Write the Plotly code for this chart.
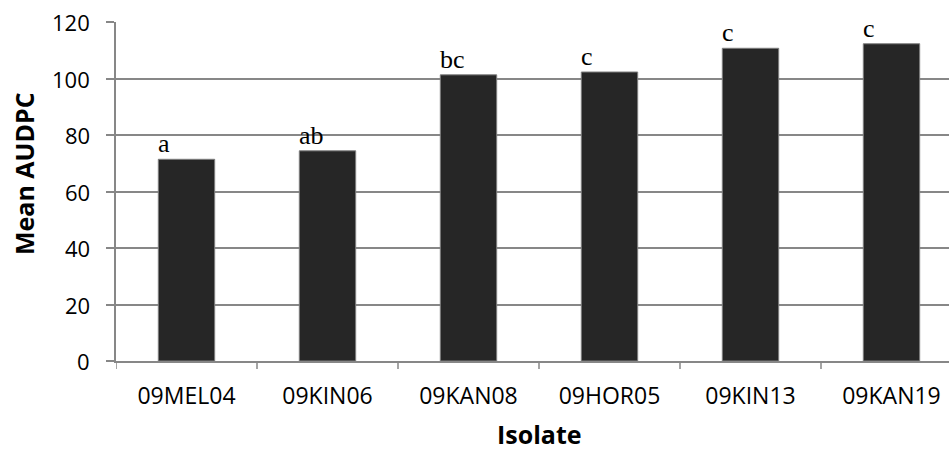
import plotly.graph_objects as go

# Mean AUDPC per isolate with significance-group letters
isolates = ["09MEL04", "09KIN06", "09KAN08", "09HOR05", "09KIN13", "09KAN19"]
mean_audpc = [71.4, 74.4, 101.3, 102.3, 110.7, 112.3]
groups = ["a", "ab", "bc", "c", "c", "c"]
y_ticks = [0, 20, 40, 60, 80, 100, 120]

W, H = 949, 450
ML, MR, MT, MB = 116, 0, 22, 89
CAT_PX = 141  # width of one category slot in pixels
BAR_W = 0.4
GRID = "#878787"
TICK_PX = 8

plot_w = W - ML - MR
plot_h = H - MT - MB
x_hi = -0.5 + plot_w / CAT_PX

fig = go.Figure()
fig.add_trace(go.Bar(
    x=list(range(len(isolates))),
    y=mean_audpc,
    width=BAR_W,
    marker=dict(color="#262626", line=dict(color="#7f7f7f", width=1)),
    hoverinfo="x+y",
))

for i, (v, g) in enumerate(zip(mean_audpc, groups)):
    fig.add_annotation(
        x=i - BAR_W / 2, y=v, text=g, showarrow=False,
        xanchor="left", yanchor="bottom", xshift=-2, yshift=-1,
        font=dict(family="Liberation Serif", size=26, color="#000000"),
    )

# y tick labels, placed on the y scale with a wider gap from the axis
for t in y_ticks:
    fig.add_annotation(
        x=0, y=t, xref="paper", yref="y", text=str(t), showarrow=False,
        xanchor="right", yanchor="middle", xshift=-24,
        font=dict(family="Open Sans", size=22, color="#000000"),
    )

# axis titles placed as annotations for precise positioning
fig.add_annotation(
    x=(539 - ML) / plot_w, y=-(434 - (H - MB)) / plot_h,
    xref="paper", yref="paper", text="<b>Isolate</b>", showarrow=False,
    xanchor="center", yanchor="middle",
    font=dict(family="Open Sans", size=25, color="#000000"),
)
fig.add_annotation(
    x=-(ML - 24) / plot_w, y=((H - MB) - 174) / plot_h,
    xref="paper", yref="paper", text="<b>Mean AUDPC</b>", showarrow=False,
    textangle=-90, xanchor="center", yanchor="middle",
    font=dict(family="Open Sans", size=25, color="#000000"),
)

fig.update_layout(
    width=W, height=H,
    margin=dict(l=ML, r=MR, t=MT, b=MB, pad=0),
    paper_bgcolor="white", plot_bgcolor="white",
    showlegend=False,
    bargap=0.6,
    font=dict(family="Open Sans", size=22, color="#000000"),
)
fig.update_xaxes(
    range=[-0.5, x_hi],
    tickmode="array",
    tickvals=list(range(len(isolates))),
    ticktext=isolates,
    tickfont=dict(size=23),
    showgrid=False, zeroline=False,
    showline=True, linecolor=GRID, linewidth=1.5,
    ticks="", ticklen=0,
    ticklabelstandoff=14,
)
# category boundary tick marks below the x axis
for b in range(len(isolates)):
    fig.add_shape(
        type="line", xref="x", yref="paper",
        x0=b - 0.5, x1=b - 0.5, y0=0, y1=-TICK_PX / plot_h,
        line=dict(color=GRID, width=1.5),
    )
fig.update_yaxes(
    range=[0, 120],
    tickmode="array", tickvals=y_ticks,
    showticklabels=False,
    showgrid=True, gridcolor=GRID, gridwidth=1.5,
    zeroline=False,
    showline=True, linecolor=GRID, linewidth=1.5,
    ticks="outside", ticklen=TICK_PX, tickcolor=GRID, tickwidth=1.5,
    automargin=False,
)

fig.write_html("out.html")
